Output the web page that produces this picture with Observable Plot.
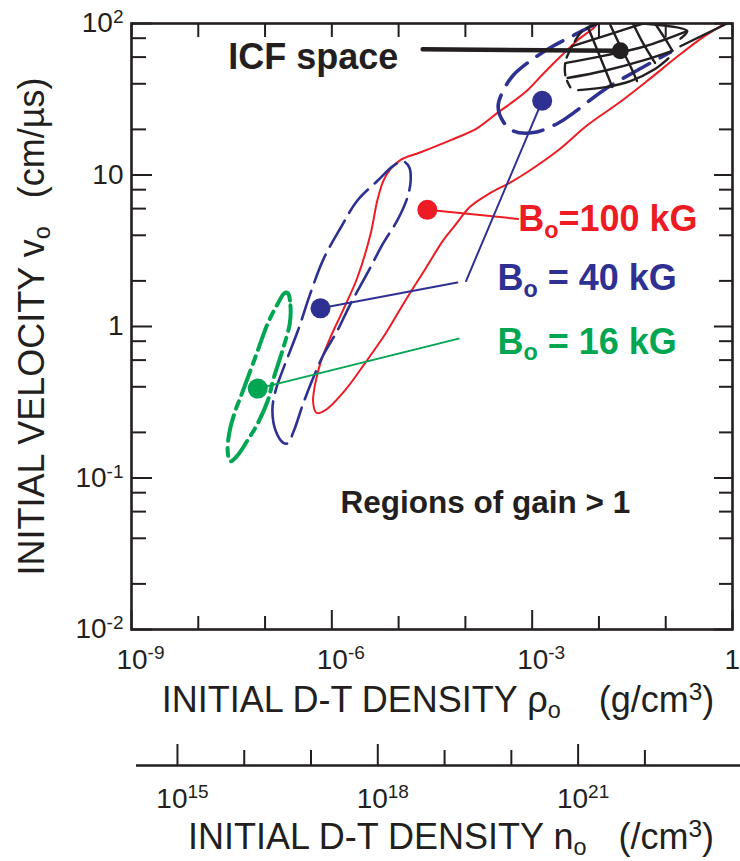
<!DOCTYPE html>
<html><head><meta charset="utf-8">
<script src="https://cdn.jsdelivr.net/npm/d3@7"></script>
<script src="https://cdn.jsdelivr.net/npm/@observablehq/plot@0.6"></script>
<style>body{margin:0;background:#fff}</style>
</head><body><div id="chart"></div>
<script>
// All curve values are [log10(rho g/cm3), log10(v cm/us)]
const red100Curve = [[-2.02,2.00],[-2.08,1.97],[-2.32,1.89],[-2.58,1.78],[-2.83,1.67],[-3.07,1.56],[-3.33,1.47],[-3.52,1.41],[-3.82,1.31],[-4.22,1.23],[-4.67,1.15],[-4.97,1.10],[-5.12,1.04],[-5.23,0.96],[-5.32,0.83],[-5.42,0.61],[-5.62,0.32],[-5.83,0.11],[-6.02,-0.07],[-6.17,-0.24],[-6.25,-0.38],[-6.28,-0.50],[-6.23,-0.57],[-6.09,-0.55],[-5.80,-0.42],[-5.50,-0.24],[-5.20,-0.05],[-4.90,0.17],[-4.60,0.38],[-4.33,0.57],[-4.15,0.67],[-3.93,0.79],[-3.63,0.88],[-3.33,0.95],[-3.07,1.02],[-2.62,1.16],[-2.17,1.33],[-1.72,1.47],[-1.28,1.62],[-0.83,1.78],[-0.44,1.91],[-0.03,2.02]];
const blue40Lower = [[-6.72,-0.77],[-6.84,-0.69],[-6.89,-0.55],[-6.84,-0.42],[-6.72,-0.27],[-6.51,-0.03],[-6.32,0.22],[-6.13,0.44],[-5.87,0.65],[-5.62,0.83],[-5.32,0.96],[-5.08,1.06],[-4.93,1.09],[-4.84,1.05],[-4.82,0.96],[-4.87,0.85],[-5.02,0.70],[-5.23,0.55],[-5.47,0.35],[-5.72,0.15],[-5.92,-0.03],[-6.13,-0.19],[-6.28,-0.34],[-6.43,-0.51],[-6.57,-0.69],[-6.66,-0.77]];
const blue40Upper = [[-1.98,2.01],[-2.17,1.97],[-2.43,1.91],[-2.73,1.84],[-3.07,1.74],[-3.28,1.66],[-3.43,1.56],[-3.51,1.45],[-3.43,1.35],[-3.28,1.29],[-2.98,1.28],[-2.62,1.34],[-2.38,1.41],[-1.93,1.56],[-1.43,1.69],[-0.93,1.81]];
const green16Curve = [[-6.66,0.22],[-6.62,0.14],[-6.63,0.02],[-6.74,-0.16],[-6.87,-0.34],[-6.96,-0.49],[-7.11,-0.64],[-7.26,-0.75],[-7.41,-0.85],[-7.52,-0.89],[-7.56,-0.82],[-7.53,-0.69],[-7.44,-0.55],[-7.37,-0.47],[-7.26,-0.34],[-7.11,-0.16],[-6.96,0.02],[-6.81,0.15],[-6.71,0.22]];
const icfArc = [[-2.02,2.00],[-2.25,1.95],[-2.40,1.85],[-2.50,1.75],[-2.50,1.65],[-2.43,1.58]];
const icfLines = [
  [[-2.31,1.56],[-1.90,1.58],[-1.53,1.62],[-1.16,1.70],[-0.96,1.77]],
  [[-2.40,1.85],[-1.83,1.93],[-1.34,2.00]],
  [[-2.49,1.74],[-1.90,1.79],[-1.31,1.85],[-0.68,1.95]],
  [[-2.47,1.64],[-1.90,1.69],[-1.31,1.76],[-0.90,1.82]],
  [[-2.16,1.97],[-2.02,1.82],[-1.90,1.69],[-1.80,1.58]],
  [[-1.83,1.99],[-1.68,1.85],[-1.53,1.72],[-1.43,1.62]],
  [[-1.49,2.00],[-1.34,1.87],[-1.16,1.74]],
  [[-1.16,2.00],[-1.01,1.90],[-0.90,1.82]],
  [[-1.34,2.00],[-0.68,1.95],[-0.78,1.90]],
  [[-0.78,1.85],[-0.08,2.00]]
];
const dotRed = [[-4.57,0.77]];
const dotBlue = [[-6.17,0.12],[-2.85,1.49]];
const dotGreen = [[-7.11,-0.41]];
const dotICF = [[-1.68,1.82]];
const leaderRed = [[-4.57,0.77],[-3.21,0.71]];
const leaderBlueA = [[-6.17,0.12],[-4.12,0.29]];
const leaderBlueB = [[-3.99,0.30],[-2.85,1.49]];
const leaderGreen = [[-7.11,-0.41],[-4.10,-0.08]];
const leaderICF = [[-4.64,1.83],[-1.68,1.82]];
const labelICF = {text: "ICF space", at: [-7.55,1.70]};
const labelRed = {text: "B_{o}=100 kG", at: [-3.21,0.63]};
const labelBlue = {text: "B_{o} = 40 kG", at: [-3.52,0.24]};
const labelGreen = {text: "B_{o} = 16 kG", at: [-3.52,-0.18]};
const labelGain = {text: "Regions of gain > 1", at: [-5.87,-1.23]};

const xDecades = [1e-9,1e-8,1e-7,1e-6,1e-5,1e-4,1e-3,1e-2,1e-1,1];
const xMajor = [1e-9,1e-6,1e-3,1];
const xMajorLabels = ["10^{-9}","10^{-6}","10^{-3}","1"];
const yDecades = [1e-2,1e-1,1,10,100];
const yLabels = ["10^{-2}","10^{-1}","1","10","10^{2}"];
const yMinorFactors = [2,4,6,8];
const nDecades = [1e15,1e16,1e17,1e18,1e19,1e20,1e21,1e22];
const nMajor = [1e15,1e18,1e21];
const nMajorLabels = ["10^{15}","10^{18}","10^{21}"];
const nPerGram = 2.05e23;

const RED="#ed1c24", BLUE="#2e3192", GREEN="#00a651", BLACK="#231f20";
const W=740, H=861, ML=131, MR=8, MT=23, MB=232;
const FW=W-ML-MR, FH=H-MT-MB;
const pts = a => a.map(([lx,ly]) => ({x: 10**lx, y: 10**ly}));
const yMinor = yDecades.slice(0,-1).flatMap(d => yMinorFactors.map(f => f*d));
const xMinor = xDecades.filter(d => !xMajor.includes(d));
const nPos = nDecades.map(n => n/nPerGram);
const nMajPos = nMajor.map(n => n/nPerGram);
const nMinPos = nPos.filter(p => !nMajPos.includes(p));
const lab = (o) => [{x: 10**o.at[0], y: 10**o.at[1], t: o.text}];
const xLab = xMajor.map((v,i) => ({v, t: xMajorLabels[i]}));

const line = (a, o) => Plot.line(pts(a), {x:"x", y:"y", clip:true, ...o});
const dot = (a, o) => Plot.dot(pts(a), {x:"x", y:"y", stroke:null, ...o});

const chart = Plot.plot({
  width: W, height: H, marginLeft: ML, marginRight: MR, marginTop: MT, marginBottom: MB,
  x: {type:"log", domain:[1e-9,1], axis:null},
  y: {type:"log", domain:[1e-2,1e2], axis:null},
  style: {fontFamily: "'Liberation Sans', Arial, Helvetica, sans-serif", background:"#fff", color: BLACK},
  marks: [
    line(red100Curve, {stroke: RED, strokeWidth: 2, curve: "catmull-rom"}),
    line(blue40Lower, {stroke: BLUE, strokeWidth: 2.6, curve: "catmull-rom-closed", strokeDasharray: "30,9"}),
    line(blue40Upper, {stroke: BLUE, strokeWidth: 3.6, curve: "catmull-rom", strokeDasharray: "30,12"}),
    line(green16Curve, {stroke: GREEN, strokeWidth: 4, curve: "catmull-rom-closed", strokeDasharray: "26,7,8,7"}),
    line(icfArc, {stroke: BLACK, strokeWidth: 2.4, curve: "catmull-rom", strokeDasharray: "12,6"}),
    ...icfLines.map(l => line(l, {stroke: BLACK, strokeWidth: 2.4, curve: "catmull-rom"})),
    line(leaderRed, {stroke: RED, strokeWidth: 2}),
    line(leaderBlueA, {stroke: BLUE, strokeWidth: 2}),
    line(leaderBlueB, {stroke: BLUE, strokeWidth: 2}),
    line(leaderGreen, {stroke: GREEN, strokeWidth: 2}),
    line(leaderICF, {stroke: BLACK, strokeWidth: 4.5}),
    dot(dotRed, {r: 10, fill: RED}),
    dot(dotBlue, {r: 10, fill: BLUE}),
    dot(dotGreen, {r: 10, fill: GREEN}),
    dot(dotICF, {r: 8.5, fill: BLACK}),
    // frame ticks
    Plot.tickX(xMajor, {x: d=>d, insetTop: FH-19, stroke: BLACK, strokeWidth: 2}),
    Plot.tickX(xMinor, {x: d=>d, insetTop: FH-13, stroke: BLACK, strokeWidth: 2}),
    Plot.tickX(xDecades, {x: d=>d, insetBottom: FH-14, stroke: BLACK, strokeWidth: 2}),
    Plot.tickY(yDecades, {y: d=>d, insetRight: FW-21, stroke: BLACK, strokeWidth: 2}),
    Plot.tickY(yMinor, {y: d=>d, insetRight: FW-15, stroke: BLACK, strokeWidth: 2}),
    Plot.tickY(yDecades, {y: d=>d, insetLeft: FW-18, stroke: BLACK, strokeWidth: 2}),
    Plot.tickY(yMinor, {y: d=>d, insetLeft: FW-13, stroke: BLACK, strokeWidth: 2}),
    Plot.frame({stroke: BLACK, strokeWidth: 2.6}),
    // second (number density) axis
    Plot.ruleY([1e-2], {y: d=>d, dy: 136, insetLeft: 5, insetRight: -8, stroke: BLACK, strokeWidth: 2.4}),
    Plot.tickX(nMajPos, {x: d=>d, insetTop: FH+136-21, insetBottom: -136, stroke: BLACK, strokeWidth: 2}),
    Plot.tickX(nMinPos, {x: d=>d, insetTop: FH+136-15, insetBottom: -136, stroke: BLACK, strokeWidth: 2}),
    // tick labels
    Plot.text(xLab.filter(d => d.t !== "1"), {x: "v", text: "t", frameAnchor:"bottom", dy: 39, dx: 9, lineAnchor:"bottom", textAnchor:"middle", fontSize: 28, fill: BLACK}),
    Plot.text(xLab.filter(d => d.t === "1"), {x: "v", text: "t", frameAnchor:"bottom", dy: 39, dx: -8, lineAnchor:"bottom", textAnchor:"start", fontSize: 28, fill: BLACK}),
    Plot.text(yDecades, {y: d=>d, text: (d,i)=>yLabels[i], frameAnchor:"left", dx: -8, textAnchor:"end", lineAnchor:"middle", fontSize: 28, fill: BLACK}),
    Plot.text(nMajPos, {x: d=>d, text: (d,i)=>nMajorLabels[i], frameAnchor:"bottom", dy: 178, dx: 5, lineAnchor:"bottom", textAnchor:"middle", fontSize: 28, fill: BLACK}),
    // axis titles
    Plot.text(["INITIAL D-T DENSITY ρ_{o}~{38}(g/cm^{3})"], {text: d=>d, frameAnchor:"bottom", dy: 82, dx: 6, lineAnchor:"bottom", textAnchor:"middle", fontSize: 36, fill: BLACK}),
    Plot.text(["INITIAL D-T DENSITY n_{o}~{32}(/cm^{3})"], {text: d=>d, frameAnchor:"bottom", dy: 219, dx: 19, lineAnchor:"bottom", textAnchor:"middle", fontSize: 36, fill: BLACK}),
    Plot.text(["INITIAL VELOCITY v_{o}~{28}(cm/µs)"], {text: d=>d, frameAnchor:"left", dx: -88, rotate: -90, lineAnchor:"bottom", textAnchor:"middle", fontSize: 36, fill: BLACK}),
    // annotations
    Plot.text(lab(labelICF), {x:"x", y:"y", text:"t", textAnchor:"start", lineAnchor:"bottom", fontSize: 36, fontWeight:"bold", fill: BLACK}),
    Plot.text(lab(labelRed), {x:"x", y:"y", text:"t", textAnchor:"start", lineAnchor:"bottom", fontSize: 36, fontWeight:"bold", fill: RED}),
    Plot.text(lab(labelBlue), {x:"x", y:"y", text:"t", textAnchor:"start", lineAnchor:"bottom", fontSize: 36, fontWeight:"bold", fill: BLUE}),
    Plot.text(lab(labelGreen), {x:"x", y:"y", text:"t", textAnchor:"start", lineAnchor:"bottom", fontSize: 36, fontWeight:"bold", fill: GREEN}),
    Plot.text(lab(labelGain), {x:"x", y:"y", text:"t", textAnchor:"start", lineAnchor:"bottom", fontSize: 31.5, fontWeight:"bold", fill: BLACK})
  ]
});
document.getElementById("chart").appendChild(chart);

// rich text: ^{sup}, _{sub}, ~{dx}
function rich(text) {
  const s = text.textContent;
  if (!/[_^~]\{/.test(s)) return;
  const fs = parseFloat(getComputedStyle(text).fontSize) || 16;
  while (text.firstChild) text.removeChild(text.firstChild);
  const re = /([_^~])\{([^}]*)\}/g;
  let last = 0, m, cur = 0, pendingDx = 0;
  const add = (str, shift, size) => {
    if (!str) return;
    const t = document.createElementNS("http://www.w3.org/2000/svg", "tspan");
    t.textContent = str;
    const dy = shift - cur;
    if (dy) t.setAttribute("dy", dy);
    if (pendingDx) { t.setAttribute("dx", pendingDx); pendingDx = 0; }
    if (size) t.setAttribute("font-size", size);
    cur = shift;
    text.appendChild(t);
  };
  while ((m = re.exec(s))) {
    add(s.slice(last, m.index), 0, null);
    if (m[1] === "~") pendingDx += +m[2];
    else if (m[1] === "^") add(m[2], -0.33 * fs, 0.68 * fs);
    else add(m[2], 0.18 * fs, 0.65 * fs);
    last = re.lastIndex;
  }
  add(s.slice(last), 0, null);
}
chart.querySelectorAll("text").forEach(rich);
</script>
</body></html>
